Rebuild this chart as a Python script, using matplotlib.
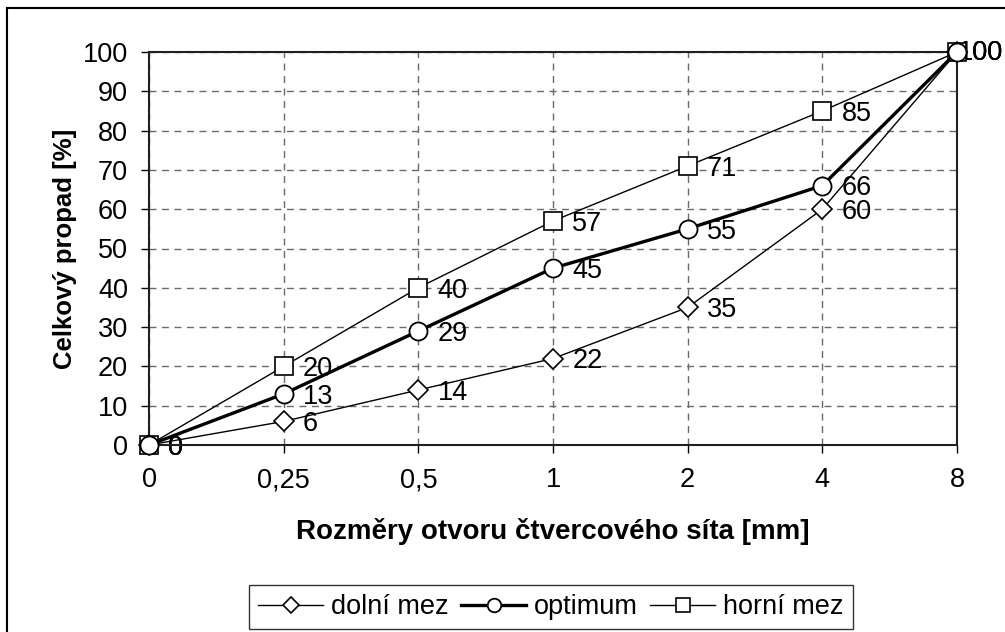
import numpy as np
import matplotlib
matplotlib.use("Agg")
import matplotlib.pyplot as plt
from matplotlib.patches import Rectangle

plt.rcParams['font.family'] = ['Liberation Sans', 'DejaVu Sans']

sieve = ["0", "0,25", "0,5", "1", "2", "4", "8"]
dolni = [0, 6, 14, 22, 35, 60, 100]
optimum = [0, 13, 29, 45, 55, 66, 100]
horni = [0, 20, 40, 57, 71, 85, 100]

W, H = 1005, 632
fig = plt.figure(figsize=(W / 100, H / 100), dpi=100)
ax = fig.add_axes([149 / W, 1 - 445 / H, (957 - 149) / W, (445 - 52) / H])

x = np.arange(len(sieve))
ax.plot(x, dolni, color='black', lw=1.0, marker='D', ms=10.5, mfc='white', mec='black', mew=1.2,
        label='dolní mez', zorder=3, clip_on=False)
ax.plot(x, optimum, color='black', lw=2.4, marker='o', ms=13, mfc='white', mec='black', mew=1.3,
        label='optimum', zorder=4, clip_on=False)
ax.plot(x, horni, color='black', lw=1.0, marker='s', ms=13, mfc='white', mec='black', mew=1.2,
        label='horní mez', zorder=3, clip_on=False)

for series in (dolni, optimum, horni):
    for xi, v in zip(x, series):
        if xi == x[-1]:
            # Excel pushes the label at the right edge back over the marker
            ax.annotate(str(v), (xi, v), xytext=(33, -1), textcoords='offset points',
                        ha='right', va='center', fontsize=19.5, zorder=2, annotation_clip=False)
        else:
            ax.annotate(str(v), (xi, v), xytext=(14, -2), textcoords='offset points',
                        ha='left', va='center', fontsize=19.5, zorder=2)

ax.set_xlim(0, len(sieve) - 1)
ax.set_ylim(0, 100)
ax.set_xticks(x)
ax.set_xticklabels(sieve)
ax.set_yticks(np.arange(0, 101, 10))
ax.tick_params(axis='both', labelsize=19.5, direction='out', length=6, width=1, color='black')
ax.tick_params(axis='x', pad=10)
ax.tick_params(axis='y', pad=9)
ax.grid(True, color='#6a6a6a', lw=1, linestyle=(0, (5, 4)))
ax.set_axisbelow(True)
for s in ax.spines.values():
    s.set_linewidth(1.5)
    s.set_color('#202020')

ax.set_xlabel('Rozměry otvoru čtvercového síta [mm]', fontsize=20, fontweight='bold', labelpad=18)
ax.set_ylabel('Celkový propad [%]', fontsize=18.5, fontweight='bold', labelpad=4)

leg = ax.legend(loc='center', bbox_to_anchor=(551 / W, 1 - 607 / H), bbox_transform=fig.transFigure,
                ncol=3, fontsize=19.5, frameon=True, fancybox=False, edgecolor='black',
                handlelength=2.4, handletextpad=0.3, columnspacing=0.45, borderpad=0.35,
                markerscale=0.75)
leg.get_frame().set_linewidth(1)

fig.patches.append(Rectangle((7 / W, -0.1), 1.2, 1 - 8 / H + 0.1, transform=fig.transFigure,
                             fill=False, edgecolor='black', lw=1.5))

fig.savefig('out.png', dpi=100)
